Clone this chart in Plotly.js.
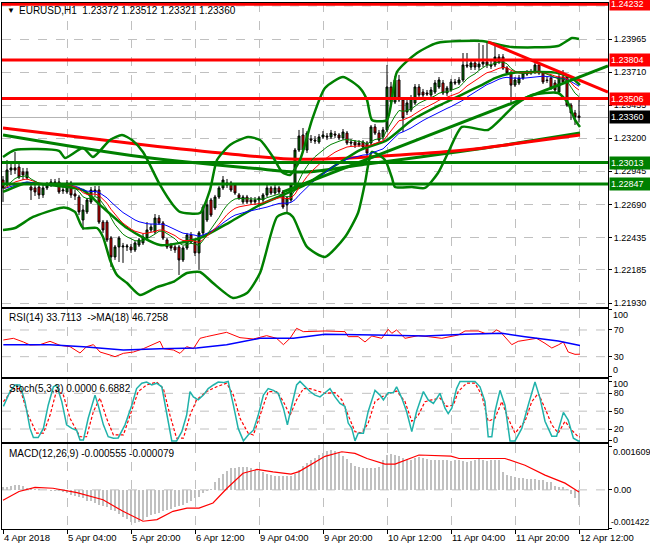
<!DOCTYPE html>
<html><head><meta charset="utf-8">
<script src="https://cdn.plot.ly/plotly-3.0.1.min.js"></script>
<style>html,body{margin:0;padding:0;background:#fff}#chart{width:650px;height:550px}</style>
</head><body><div id="chart"></div>
<script>
// ---- X axis (H1 bars, index 0 = 4 Apr 2018 12:00) ----
const tickIdx = [0,16,32,48,64,80,96,112,128,144];
const tickText = ['4 Apr 2018','5 Apr 04:00','5 Apr 20:00','6 Apr 12:00','9 Apr 04:00','9 Apr 20:00','10 Apr 12:00','11 Apr 04:00','11 Apr 20:00','12 Apr 12:00'];

// ---- EURUSD H1 candles ----
const open = [
1.22878,1.22840,1.22955,1.22971,1.22978,1.22940,1.22894,1.22824,1.22817,1.22824,
1.22763,1.22817,1.22840,1.22863,1.22863,1.22794,1.22786,1.22855,1.22771,1.22747,
1.22570,1.22632,1.22709,1.22786,1.22801,1.22554,1.22554,1.22431,1.22285,1.22362,
1.22362,1.22362,1.22362,1.22339,1.22377,1.22393,1.22431,1.22493,1.22477,1.22585,
1.22547,1.22416,1.22377,1.22362,1.22362,1.22262,1.22354,1.22454,1.22400,1.22316,
1.22470,1.22570,1.22724,1.22663,1.22747,1.22817,1.22855,1.22855,1.22840,1.22763,
1.22709,1.22747,1.22724,1.22709,1.22724,1.22724,1.22763,1.22817,1.22778,1.22817,
1.22786,1.22686,1.22724,1.22840,1.23109,1.23225,1.23109,1.23194,1.23186,1.23171,
1.23210,1.23217,1.23210,1.23233,1.23225,1.23202,1.23240,1.23171,1.23171,1.23163,
1.23171,1.23163,1.23163,1.23287,1.23240,1.23210,1.23264,1.23595,1.23479,1.23649,
1.23495,1.23402,1.23418,1.23472,1.23595,1.23556,1.23549,1.23533,1.23556,1.23595,
1.23626,1.23549,1.23572,1.23634,1.23626,1.23649,1.23765,1.23749,1.23780,1.23749,
1.23772,1.23788,1.23765,1.23765,1.23826,1.23826,1.23741,1.23703,1.23610,1.23626,
1.23664,1.23703,1.23703,1.23711,1.23765,1.23703,1.23649,1.23664,1.23626,1.23556,
1.23672,1.23672,1.23456,1.23395,1.23372];
const high = [
1.22909,1.23032,1.23009,1.23094,1.23024,1.22971,1.22971,1.22855,1.22840,1.22848,
1.22840,1.22863,1.22886,1.22886,1.22894,1.22832,1.22878,1.22871,1.22801,1.22763,
1.22686,1.22740,1.22824,1.22832,1.22832,1.22570,1.22570,1.22446,1.22377,1.22446,
1.22393,1.22385,1.22385,1.22408,1.22431,1.22462,1.22554,1.22539,1.22616,1.22608,
1.22562,1.22431,1.22393,1.22377,1.22377,1.22369,1.22470,1.22477,1.22416,1.22485,
1.22686,1.22724,1.22740,1.22763,1.22832,1.22909,1.22886,1.22871,1.22855,1.22778,
1.22763,1.22763,1.22747,1.22747,1.22755,1.22778,1.22840,1.22832,1.22840,1.22832,
1.22801,1.22755,1.22855,1.23125,1.23264,1.23279,1.23256,1.23225,1.23217,1.23233,
1.23256,1.23240,1.23264,1.23256,1.23240,1.23271,1.23256,1.23194,1.23186,1.23186,
1.23186,1.23179,1.23302,1.23310,1.23264,1.23287,1.23765,1.23634,1.23680,1.23688,
1.23518,1.23495,1.23533,1.23618,1.23618,1.23580,1.23572,1.23595,1.23649,1.23672,
1.23649,1.23603,1.23657,1.23657,1.23672,1.23857,1.23857,1.23803,1.23803,1.23934,
1.23919,1.23942,1.23803,1.23934,1.23849,1.23849,1.23757,1.23718,1.23672,1.23688,
1.23718,1.23726,1.23734,1.23788,1.23780,1.23718,1.23672,1.23688,1.23649,1.23695,
1.23726,1.23695,1.23472,1.23418,1.23512];
const low = [
1.22709,1.22832,1.22917,1.22924,1.22886,1.22878,1.22878,1.22724,1.22755,1.22732,
1.22740,1.22801,1.22824,1.22832,1.22771,1.22771,1.22771,1.22740,1.22724,1.22608,
1.22493,1.22616,1.22693,1.22755,1.22539,1.22470,1.22400,1.22208,1.22262,1.22246,
1.22239,1.22331,1.22316,1.22323,1.22362,1.22377,1.22416,1.22477,1.22462,1.22531,
1.22416,1.22346,1.22331,1.22316,1.22146,1.22246,1.22339,1.22385,1.22292,1.22185,
1.22446,1.22554,1.22593,1.22647,1.22732,1.22801,1.22817,1.22786,1.22763,1.22724,
1.22693,1.22693,1.22686,1.22686,1.22678,1.22709,1.22747,1.22763,1.22763,1.22771,
1.22655,1.22624,1.22709,1.22824,1.23094,1.23094,1.23086,1.23163,1.23156,1.23156,
1.23194,1.23186,1.23194,1.23202,1.23186,1.23186,1.23148,1.23140,1.23125,1.23133,
1.23109,1.23032,1.23148,1.23225,1.23171,1.23186,1.23248,1.23464,1.23464,1.23479,
1.23248,1.23379,1.23402,1.23456,1.23510,1.23510,1.23526,1.23518,1.23541,1.23580,
1.23533,1.23526,1.23556,1.23610,1.23610,1.23634,1.23741,1.23726,1.23726,1.23726,
1.23749,1.23741,1.23734,1.23749,1.23772,1.23726,1.23688,1.23472,1.23595,1.23610,
1.23649,1.23680,1.23688,1.23695,1.23688,1.23618,1.23626,1.23572,1.23556,1.23541,
1.23618,1.23441,1.23341,1.23302,1.23321];
const close = [
1.22817,1.22955,1.22971,1.22955,1.22901,1.22917,1.22940,1.22801,1.22786,1.22763,
1.22817,1.22840,1.22863,1.22855,1.22786,1.22801,1.22855,1.22763,1.22755,1.22632,
1.22647,1.22724,1.22801,1.22801,1.22554,1.22493,1.22416,1.22285,1.22362,1.22431,
1.22369,1.22369,1.22339,1.22393,1.22416,1.22439,1.22493,1.22516,1.22585,1.22547,
1.22431,1.22362,1.22354,1.22339,1.22262,1.22354,1.22454,1.22400,1.22316,1.22470,
1.22670,1.22686,1.22608,1.22747,1.22817,1.22878,1.22840,1.22801,1.22778,1.22740,
1.22747,1.22709,1.22709,1.22724,1.22740,1.22763,1.22817,1.22778,1.22817,1.22786,
1.22670,1.22740,1.22840,1.23109,1.23217,1.23109,1.23240,1.23186,1.23179,1.23210,
1.23225,1.23210,1.23240,1.23225,1.23202,1.23248,1.23163,1.23163,1.23148,1.23148,
1.23133,1.23086,1.23287,1.23240,1.23186,1.23264,1.23595,1.23479,1.23649,1.23495,
1.23356,1.23472,1.23510,1.23595,1.23533,1.23533,1.23541,1.23572,1.23626,1.23649,
1.23549,1.23587,1.23634,1.23626,1.23649,1.23765,1.23757,1.23780,1.23749,1.23772,
1.23788,1.23765,1.23757,1.23826,1.23788,1.23741,1.23703,1.23610,1.23649,1.23664,
1.23703,1.23695,1.23711,1.23765,1.23703,1.23634,1.23645,1.23587,1.23572,1.23672,
1.23634,1.23456,1.23395,1.23364,1.23360];

// ---- Bollinger bands ----
const bbUpX = [0,3,14,15.5,20,22.5,26.75,29.75,32.25,35,39.25,42.5,44.25,49.25,51.75,53.5,56.75,61.25,64.25,67.5,69.75,71.75,74.25,77.25,80.5,85,89.25,91,92.25,96,98.5,103.5,108.5,119.75,124.25,127.25,138.75,142.25,144];
const bbUpY = [1.23055,1.23109,1.23102,1.23048,1.23125,1.23055,1.23186,1.23225,1.23186,1.23094,1.22840,1.22686,1.22632,1.22624,1.22801,1.23032,1.23148,1.23210,1.23186,1.23055,1.22940,1.22917,1.23032,1.23341,1.23587,1.23672,1.23587,1.23495,1.23341,1.23341,1.23711,1.23857,1.23934,1.23950,1.23919,1.23903,1.23911,1.23973,1.23965];
const bbMidX = [0,6,11.75,20,24.25,31,39.25,49.25,56.75,64.25,71.75,75.5,80.5,89.25,96,102.25,109.25,119.25,123,127.25,134.25,138.75,142.25,144.25];
const bbMidY = [1.22786,1.22855,1.22840,1.22801,1.22686,1.22508,1.22377,1.22431,1.22554,1.22686,1.22786,1.22840,1.22940,1.23109,1.23186,1.23341,1.23456,1.23603,1.23664,1.23703,1.23711,1.23703,1.23664,1.23610];
const bbLoX = [0,3,7.5,14.25,16,18,20,23.5,25,26.75,28.5,31,34.25,38.5,42.5,46,49.25,52.5,57.5,61,64.25,68.5,71,72.5,76,80.5,85.5,88.75,90.5,92.25,95.5,97.25,98,102.25,105.5,108.75,111.25,114.75,121.25,128,132.25,138.75,141.25,143,144.25];
const bbLoY = [1.22493,1.22508,1.22593,1.22663,1.22663,1.22632,1.22508,1.22508,1.22439,1.22262,1.22146,1.22084,1.21992,1.22053,1.22092,1.22161,1.22169,1.22084,1.21969,1.22007,1.22161,1.22593,1.22624,1.22593,1.22362,1.22285,1.22439,1.22624,1.22855,1.23094,1.23032,1.22894,1.22824,1.22824,1.22817,1.22932,1.23086,1.23287,1.23264,1.23456,1.23533,1.23549,1.23472,1.23341,1.23287];

// ---- Long moving averages ----
const maRedX = [0,16.75,35.5,56.75,71.75,80.5,99.25,115.5,129.25,144.25];
const maRedY = [1.23279,1.23217,1.23148,1.23079,1.23040,1.23040,1.23071,1.23109,1.23163,1.23225];
const maGreenX = [0,35,61.75,75.5,89.25,118.75,144.25];
const maGreenY = [1.23225,1.23055,1.22971,1.22940,1.22994,1.23117,1.23240];

// ---- Trend lines and levels ----
const trendRedX = [121.25,151.25], trendRedY = [1.23942,1.23556];
const trendGreenX = [70,151.25], trendGreenY = [1.22786,1.23757];
const levels = [1.24232,1.23804,1.23506,1.23013,1.22847];
const levelColors = ['#ff0000','#ff0000','#ff0000','#008000','#008000'];
const bidPrice = 1.23360;
const priceTicks = [1.21930,1.22185,1.22435,1.22690,1.22945,1.23200,1.23455,1.23710,1.23965];
const priceGridTop = 1.24220;

// ---- RSI(14) and MA(18) ----
const rsiX = [0.08,2.6,5.1,6.75,9.25,11.75,14.25,16.75,19.25,20.9,22.6,24.25,26.75,28,30.1,32.6,35.1,37.6,39.25,40.1,42.6,44.25,45.9,47.6,49.25,50.9,53.4,55.9,59.25,62.6,65.9,68.4,70.1,71.75,73.4,75.1,80.5,85.5,86.3,88.8,90.5,92.2,94.7,96.3,97.2,98.4,100.5,103.8,106.3,109.7,113.8,115.5,118.8,120.5,122.2,123.4,124.3,125.5,127.2,128.8,131.3,133.4,135.5,137.2,138.8,140.1,141.3,143,144.25];
const rsiY = [55,57.5,52,47.5,48,53,47,45,35.5,45,48,37,32.5,30,35,37,42,48,53,42,40,35,45,42,57.5,60,63.5,66.5,58.5,56.5,61.5,57.5,48,57.5,72.5,67.5,68.5,67.5,60,60,52,61,57.5,71,65,70,57.5,61.5,60,57.5,62.5,68.5,68.5,65,65,70,67.5,60,48,53,55,57.5,50,43,47.5,52,37,33.5,33.7113];
const rsiMaX = [0.08,11.75,20.1,30.1,39.25,48.4,55.9,64.25,72.6,80.5,93,105.5,115.5,124.7,130.5,138.8,144.25];
const rsiMaY = [48,48,45,40,42,43,48,57.5,57.5,63.5,62.5,61,63.5,65,60,53.5,46.7258];
const rsiGrid = [30,70];
const rsiTicks = [0,30,70,100];

// ---- Stochastic(5,3,3) ----
const stMainX = [0.1,1.75,3,4.25,5.5,6.75,7.6,8.8,10.1,11.3,12.6,13.4,14.7,15.9,17.2,18.4,19.25,20.1,21.3,23,23.8,25.1,26.3,27.6,28.8,30.5,32.2,33.4,34.7,35.9,37.2,38.4,39.7,40.9,42.2,43.4,44.7,45.9,46.75,47.6,48.8,50.1,51.3,52.6,53.8,55.1,56.3,57.6,58.8,60.1,61.3,62.6,63.8,65.1,66.3,67.6,68.8,70.1,71.1,72.2,73.4,74.25,75.5,76.75,78,79.25,80.5,81.75,83,84.25,85.5,86.3,87.2,88,88.8,90.1,91.3,93,94.25,95.1,96.3,97.6,98.4,99.7,100.9,102.2,103.4,105.1,106.3,107.6,109.25,110.5,111.3,112.2,113.4,114.25,116.3,118,119.25,120.5,121.3,122.2,123,124.25,125.5,126.75,128,129.7,131.3,133,134.25,135.5,137.2,138.4,140.1,141.3,142.6,143.8,144.25];
const stMainY = [58,83,94,94,66,21,5.6,5.6,21,60,91,94,66,27,21,18,1.7,1.7,38,77,60,27,7,4.5,5,27,60,88,97,99,94,97,91,46,0,0,15.6,43,83,74,69,77,88,94,99,98,100,60,21,0,10,18,43,77,88,85,80,55,27,60,94,100,91,83,77,74,81,88,74,63,58,30,21,0,13,13,49.5,85,77,69,81,81,91,72,49.5,15.6,49.5,83,69,63,80,55,46,55,88,100,100,100,91,66,7,7,49.5,85,60,0,0,21,60,99,72,33,8,8,48,35,4.5,0,0];
const stSigX = [0.1,2.6,4.25,6.3,8.4,10.1,11.75,13.4,15.1,16.75,19.25,20.9,22.6,24.25,25.9,27.6,30.1,31.75,33.8,35.9,38.4,40.1,41.75,43.4,45.1,46.75,48.4,50.9,53.4,55.9,57.6,59.25,61.3,62.6,64.7,66.3,68.4,70.1,71.75,73.4,75.1,76.75,80.5,83,84.7,86.3,88,89.7,91.3,93,94.7,96.75,98.4,100.5,102.2,103.8,105.5,107.2,109.25,110.9,112.6,113.8,115.9,118,119.7,121.3,123,124.7,126.3,128,130.5,132.2,133.8,135.5,137.2,138.8,140.5,142.2,143.8,144.25];
const stSigY = [66,88,88,43,13,13,43,85,77,38,7,7,49.5,72,38,10,10,43,83,94,99,88,43,4.5,4.5,43,69,83,91,97,77,38,13,10,49.5,83,83,66,43,69,88,88,80,81,69,43,15.6,13,30,66,74,80,84,66,33,43,66,69,72,58,60,83,97,97,77,33,38,66,38,13,33,66,80,55,27,13,33,18,7,6.6882];
const stochGrid = [20,50,80];
const stochTicks = [0,20,50,80,100];

// ---- MACD(12,26,9): main as histogram, signal line ----
const macdHist = [
0.00010,0.00012,0.00015,0.00018,0.00018,0.00015,
0.00008,0.00005,0.00003,0.00002,0.00000,-0.00002,-0.00003,-0.00005,-0.00006,-0.00008,
-0.00012,-0.00018,-0.00022,-0.00026,-0.00030,
-0.00040,-0.00043,-0.00050,-0.00055,-0.00060,-0.00065,-0.00075,
-0.00080,-0.00090,-0.00100,-0.00110,-0.00118,-0.00123,
-0.00120,-0.00112,-0.00100,-0.00095,-0.00090,
-0.00085,-0.00080,-0.00075,-0.00070,-0.00065,-0.00062,
-0.00055,-0.00048,-0.00040,-0.00032,-0.00025,
-0.00012,-0.00005,0.00002,
0.00030,0.00045,0.00060,0.00072,0.00080,
0.00082,0.00085,0.00085,0.00084,0.00082,
0.00075,0.00070,0.00065,0.00060,0.00055,0.00052,0.00050,0.00050,0.00052,0.00050,
0.00060,0.00075,0.00090,0.00100,0.00110,0.00120,0.00130,0.00138,
0.00145,0.00148,0.00145,0.00140,
0.00125,0.00115,0.00100,0.00090,
0.00085,0.00082,0.00080,0.00082,0.00080,0.00085,
0.00110,0.00130,0.00135,0.00130,0.00125,
0.00118,0.00115,0.00112,0.00118,0.00122,0.00118,0.00115,0.00112,0.00110,0.00112,
0.00112,0.00110,0.00108,0.00110,0.00112,0.00108,0.00105,0.00108,0.00112,0.00115,0.00112,0.00108,0.00110,0.00112,0.00110,
0.00065,0.00055,0.00050,0.00048,0.00045,
0.00045,0.00042,0.00040,0.00040,0.00038,0.00035,0.00030,0.00028,
0.00015,0.00012,0.00010,0.00005,
-0.00015,-0.00030,-0.000555];
const macdSigX = [0,4,8,12.5,18.5,25,30,35,38.5,42.5,46,49,52.5,56,60,63.5,67.5,72,74,80.5,84.7,88,91,95.5,98,104,112,114,125.5,130.5,135.5,140.5,144];
const macdSigY = [-0.00039,-0.00006,0.00009,0.00006,-0.0001,-0.00037,-0.0008,-0.00117,-0.00111,-0.0008,-0.00068,-0.00068,-0.00049,0.00006,0.00062,0.00076,0.00067,0.00059,0.00068,0.00125,0.00142,0.00136,0.00117,0.00096,0.00096,0.0013,0.00126,0.00117,0.00117,0.00092,0.00055,0.00025,-0.000079];
const macdTicks = [-0.001422,0,0.001609];
const macdTickText = ['-0.001422','0.00','0.001609'];

// ---- derived ----
const idx = close.map((_, i) => i);
const median = high.map((h, i) => (h + low[i]) / 2);
function smma(src, n) { const out = []; let v = src[0]; src.forEach((s, i) => { v = i === 0 ? s : (v * (n - 1) + s) / n; out.push(v); }); return out; }
const jaw = smma(median, 13), teeth = smma(median, 8), lips = smma(median, 5);

const G = '#008000', R = '#ff0000';
const traces = [
  {x: maGreenX, y: maGreenY, type:'scatter', mode:'lines', line:{color:G, width:3, shape:'spline'}, xaxis:'x', yaxis:'y'},
  {x: maRedX, y: maRedY, type:'scatter', mode:'lines', line:{color:R, width:3, shape:'spline'}, xaxis:'x', yaxis:'y'},
  {x: bbUpX, y: bbUpY, type:'scatter', mode:'lines', line:{color:G, width:2.5, shape:'spline', smoothing:0.6}, xaxis:'x', yaxis:'y'},
  {x: bbMidX, y: bbMidY, type:'scatter', mode:'lines', line:{color:G, width:2.5, shape:'spline', smoothing:0.6}, xaxis:'x', yaxis:'y'},
  {x: bbLoX, y: bbLoY, type:'scatter', mode:'lines', line:{color:G, width:2.5, shape:'spline', smoothing:0.6}, xaxis:'x', yaxis:'y'},
  {x: idx, open: open, high: high, low: low, close: close, type:'candlestick', xaxis:'x', yaxis:'y', whiskerwidth:0,
   increasing:{line:{color:'#000', width:1}, fillcolor:G}, decreasing:{line:{color:'#000', width:1}, fillcolor:R}},
  {x: idx, y: jaw, type:'scatter', mode:'lines', line:{color:'#0000ff', width:1}, xaxis:'x', yaxis:'y'},
  {x: idx, y: teeth, type:'scatter', mode:'lines', line:{color:R, width:1}, xaxis:'x', yaxis:'y'},
  {x: idx, y: lips, type:'scatter', mode:'lines', line:{color:G, width:1}, xaxis:'x', yaxis:'y'},
  {x: trendRedX, y: trendRedY, type:'scatter', mode:'lines', line:{color:R, width:3}, xaxis:'x', yaxis:'y'},
  {x: trendGreenX, y: trendGreenY, type:'scatter', mode:'lines', line:{color:G, width:3}, xaxis:'x', yaxis:'y'},
  {x: rsiX, y: rsiY, type:'scatter', mode:'lines', line:{color:R, width:1}, xaxis:'x2', yaxis:'y2'},
  {x: rsiMaX, y: rsiMaY, type:'scatter', mode:'lines', line:{color:'#0000ff', width:1.5}, xaxis:'x2', yaxis:'y2'},
  {x: stSigX, y: stSigY, type:'scatter', mode:'lines', line:{color:R, width:1.2, dash:'3px,2px'}, xaxis:'x3', yaxis:'y3'},
  {x: stMainX, y: stMainY, type:'scatter', mode:'lines', line:{color:'#20b2aa', width:1.5}, xaxis:'x3', yaxis:'y3'},
  {x: idx, y: macdHist, type:'bar', width:0.3, marker:{color:'#c0c0c0', line:{width:0}}, xaxis:'x4', yaxis:'y4'},
  {x: macdSigX, y: macdSigY, type:'scatter', mode:'lines', line:{color:R, width:1.2}, xaxis:'x4', yaxis:'y4'}
];

const xbase = {range:[-0.25,151.25], tickmode:'array', tickvals:tickIdx, ticktext:tickText, showgrid:true, gridcolor:'#c0c0c0', griddash:'dash', gridwidth:1,
  showline:true, mirror:true, linecolor:'#000', linewidth:1, zeroline:false, showticklabels:false, ticks:'', rangeslider:{visible:false}, fixedrange:true};
const ybase = {side:'right', showline:true, mirror:true, linecolor:'#000', linewidth:1, zeroline:false, ticks:'outside', ticklen:3, tickcolor:'#000', showgrid:false, fixedrange:true, tickfont:{size:9}};

const dashGrid = {color:'#c0c0c0', width:1, dash:'dash'};
const shapes = [];
shapes.push({type:'line', xref:'x domain', x0:0, x1:1, yref:'y', y0:priceGridTop, y1:priceGridTop, line:dashGrid, layer:'below'});
shapes.push({type:'line', xref:'x domain', x0:0, x1:1, yref:'y', y0:bidPrice, y1:bidPrice, line:{color:'#b4b4b4', width:1}, layer:'below'});
levels.forEach((lv, k) => shapes.push({type:'line', xref:'x domain', x0:0, x1:1, yref:'y', y0:lv, y1:lv, line:{color:levelColors[k], width:3}, layer:'above'}));
rsiGrid.forEach(v => shapes.push({type:'line', xref:'x2 domain', x0:0, x1:1, yref:'y2', y0:v, y1:v, line:dashGrid, layer:'below'}));
stochGrid.forEach(v => shapes.push({type:'line', xref:'x3 domain', x0:0, x1:1, yref:'y3', y0:v, y1:v, line:dashGrid, layer:'below'}));
shapes.push({type:'line', xref:'x4 domain', x0:0, x1:1, yref:'y4', y0:0, y1:0, line:dashGrid, layer:'below'});

const annotations = [];
const boxFont = {color:'#fff', size:9};
levels.forEach((lv, k) => annotations.push({xref:'paper', yref:'y', x:1, y:lv, xanchor:'left', yanchor:'middle', xshift:1, text:lv.toFixed(5), showarrow:false,
  bgcolor:levelColors[k], font:boxFont, borderpad:1, width:38, align:'left'}));
annotations.push({xref:'paper', yref:'y', x:1, y:bidPrice, xanchor:'left', yanchor:'middle', xshift:1, text:bidPrice.toFixed(5), showarrow:false,
  bgcolor:'#000', font:boxFont, borderpad:1, width:38, align:'left'});
// edge labels of the indicator windows are drawn inside the window, as the terminal does
const edgeLbl = (yref, y, text, size, shift) => ({xref:'paper', yref:yref, x:1, y:y, xanchor:'left', yanchor:'middle', xshift:shift, text:text, showarrow:false, font:{size:size, color:'#000'}});
annotations.push(edgeLbl('y2', 92.5, String(rsiTicks[3]), 9, 3));
annotations.push(edgeLbl('y2', 10, String(rsiTicks[0]), 9, 3));
annotations.push(edgeLbl('y3', 95, String(stochTicks[4]), 9, 3));
annotations.push(edgeLbl('y3', 2, String(stochTicks[0]), 9, 3));
annotations.push(edgeLbl('y4', 0.00142, macdTickText[2], 9, 3));
annotations.push(edgeLbl('y4', -0.00119, macdTickText[0], 8.5, 1));

const lblFont = {size:10, color:'#000'};
annotations.push({xref:'paper', yref:'paper', x:0, y:0.985, xanchor:'left', yanchor:'middle', xshift:3, text:'▼', showarrow:false, font:{size:8, color:'#000'}});
annotations.push({xref:'paper', yref:'paper', x:0, y:0.985, xanchor:'left', yanchor:'middle', xshift:15, text:'EURUSD,H1  1.23372 1.23512 1.23321 1.23360', showarrow:false, font:lblFont});
annotations.push({xref:'paper', yref:'paper', x:0, y:0.403, xanchor:'left', yanchor:'middle', xshift:5, text:'RSI(14) 33.7113  ->MA(18) 46.7258', showarrow:false, font:lblFont});
annotations.push({xref:'paper', yref:'paper', x:0, y:0.268, xanchor:'left', yanchor:'middle', xshift:5, text:'Stoch(5,3,3) 0.0000 6.6882', showarrow:false, font:lblFont});
annotations.push({xref:'paper', yref:'paper', x:0, y:0.1426, xanchor:'left', yanchor:'middle', xshift:5, text:'MACD(12,26,9) -0.000555 -0.000079', showarrow:false, font:lblFont});

const layout = {
  width:650, height:550, margin:{l:2, r:42, t:3, b:21}, paper_bgcolor:'#fff', plot_bgcolor:'#fff', showlegend:false,
  font:{family:'"Liberation Sans", Arial, sans-serif', size:9.5, color:'#000'},
  xaxis: Object.assign({}, xbase, {anchor:'y'}),
  xaxis2: Object.assign({}, xbase, {anchor:'y2'}),
  xaxis3: Object.assign({}, xbase, {anchor:'y3'}),
  xaxis4: Object.assign({}, xbase, {anchor:'y4', showticklabels:true, ticks:'outside', ticklen:4, tickcolor:'#000', ticklabelposition:'outside right'}),
  yaxis: Object.assign({}, ybase, {anchor:'x', domain:[0.423,1], range:[1.21903,1.242425], tickmode:'array', tickvals:priceTicks, tickformat:'.5f', showgrid:true, gridcolor:'#c0c0c0', griddash:'dash'}),
  yaxis2: Object.assign({}, ybase, {anchor:'x2', domain:[0.289,0.4192], range:[-0.45,102.2], tickmode:'array', tickvals:rsiTicks, ticktext:['','30','70','']}),
  yaxis3: Object.assign({}, ybase, {anchor:'x3', domain:[0.1654,0.2861], range:[-1.85,104.9], tickmode:'array', tickvals:stochTicks, ticktext:['','20','50','80','']}),
  yaxis4: Object.assign({}, ybase, {anchor:'x4', domain:[0,0.1616], range:[-0.001459,0.00171], tickmode:'array', tickvals:macdTicks, ticktext:['','0.00','']}),
  shapes: shapes, annotations: annotations, bargap:0
};
Plotly.newPlot('chart', traces, layout, {staticPlot:true, displayModeBar:false});
</script>
</body></html>
